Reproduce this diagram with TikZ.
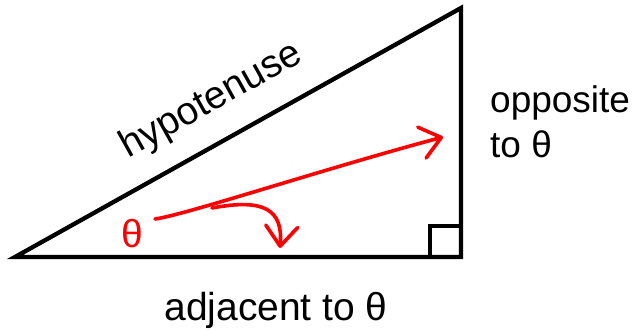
\documentclass[tikz,border=0pt]{standalone}
\usepackage{fontspec}
\setmainfont{Liberation Sans}
\usetikzlibrary{arrows.meta, positioning, calc}

\begin{document}
\begin{tikzpicture}[x=1pt,y=-1pt,
        >={Straight Barb[length=20pt,width=32pt,line cap=round,line join=round]},
        side/.style={line width=4.3pt},
        redline/.style={draw=red,line width=3.6pt,line cap=round},
        every node/.style={font=\fontsize{39}{46}\selectfont,inner sep=0pt}]
      \useasboundingbox (0,0) rectangle (635,331);
      \coordinate (A) at (15,257);
      \coordinate (B) at (461,257);
      \coordinate (C) at (461,8);
      \draw[side] (A) -- (B) -- (C) -- cycle;
      \draw[line width=3.6pt] ($(B)+(-31,-31)$) rectangle (B);
      \path (A) -- node[sloped,above=22pt,pos=0.485] (hyp) {hypotenuse} (C);
      \node[align=left,anchor=north west,font=\fontsize{37}{45}\selectfont] (opp) at (490,85) {opposite\\to θ};
      \node[anchor=base] (adj) at (276,320) {adjacent to θ};
      \node[text=red] (theta) at (132,234) {θ};
      \coordinate (s) at (155,219);
      \coordinate (fork) at (212,208);
      \coordinate (tipO) at (443,137);
      \coordinate (tipA) at (280,248);
      \draw[redline,->] (s) .. controls (185,215) and (320,170) .. (tipO);
      \draw[redline,->] (fork) .. controls (265,198) and (283,210) .. (tipA);
    \end{tikzpicture}
\end{document}
